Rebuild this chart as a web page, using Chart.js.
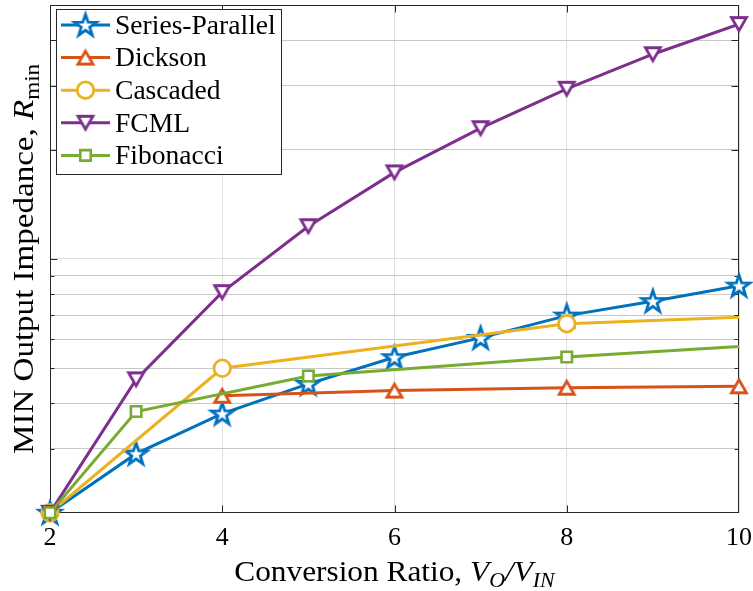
<!DOCTYPE html>
<html>
<head>
<meta charset="utf-8">
<script src="https://cdn.jsdelivr.net/npm/chart.js@4.4.1/dist/chart.umd.min.js"></script>
<style>
  html, body { margin: 0; padding: 0; background: #fff; }
  canvas { display: block; }
</style>
</head>
<body>
<canvas id="rminChart" width="753" height="591"></canvas>
<script>
// axis ticks
const xTicks = [2, 4, 6, 8, 10];
const yTicks = [2, 3, 4, 5, 6, 7, 8, 9, 10, 20, 30, 40, 50];

const seriesNames = ['Series-Parallel', 'Dickson', 'Cascaded', 'FCML', 'Fibonacci'];

// values (log y axis)
const spX = [2, 3, 4, 5, 6, 7, 8, 9, 10];
const spY = [2, 2.91, 3.75, 4.53, 5.36, 6.06, 6.98, 7.65, 8.44];

const dicksonX = [4, 6, 8, 10];
const dicksonY = [4.2, 4.34, 4.42, 4.46];

const cascadedX = [2, 4, 8, 16];
const cascadedY = [2, 5.0, 6.63, 7.8];

const fcmlX = [2, 3, 4, 5, 6, 7, 8, 9, 10];
const fcmlY = [2, 4.66, 8.1, 12.3, 17.3, 22.9, 29.4, 36.6, 44.3];

const fibX = [2, 3, 5, 8, 13];
const fibY = [2, 3.8, 4.76, 5.37, 6.33];

const FONT = "'Liberation Serif', 'Times New Roman', serif";
const AXIS_COLOR = '#262626';
const LINE_W = 3;

// --- marker images (matlab-like pentagram and triangles) ---
function starImage(color) {
    const c = document.createElement('canvas');
    c.width = c.height = 36;
    const g = c.getContext('2d');
    g.beginPath();
    for (let i = 0; i < 10; i++) {
        const r = i % 2 ? 4.5 : 11.5;
        const a = -Math.PI / 2 + i * Math.PI / 5;
        g.lineTo(18 + r * Math.cos(a), 18.8 + r * Math.sin(a));
    }
    g.closePath();
    g.fillStyle = '#fff';
    g.fill();
    g.lineWidth = 2.8;
    g.lineJoin = 'miter';
    g.strokeStyle = color;
    g.stroke();
    return c;
}

function triangleImage(color, down) {
    const c = document.createElement('canvas');
    c.width = c.height = 30;
    const g = c.getContext('2d');
    const w = 15, h = 13, cx = 15, cy = 15;
    g.beginPath();
    if (down) {
        g.moveTo(cx, cy + h / 2);
        g.lineTo(cx - w / 2, cy - h / 2);
        g.lineTo(cx + w / 2, cy - h / 2);
    } else {
        g.moveTo(cx, cy - h / 2);
        g.lineTo(cx - w / 2, cy + h / 2);
        g.lineTo(cx + w / 2, cy + h / 2);
    }
    g.closePath();
    g.fillStyle = '#fff';
    g.fill();
    g.lineWidth = 2.8;
    g.lineJoin = 'miter';
    g.strokeStyle = color;
    g.stroke();
    return c;
}

const colors = ['#0072BD', '#D95319', '#EDB120', '#7E2F8E', '#77AC30'];
const markers = [
    { style: starImage(colors[0]) },
    { style: triangleImage(colors[1], false) },
    { style: 'circle', radius: 8.3, border: 2.8 },
    { style: triangleImage(colors[3], true) },
    { style: 'rect', radius: 7.4, border: 2.6 }
];
const seriesX = [spX, dicksonX, cascadedX, fcmlX, fibX];
const seriesY = [spY, dicksonY, cascadedY, fcmlY, fibY];

function toPoints(xs, ys) {
    return xs.map((x, i) => ({ x: x, y: ys[i] }));
}

// each series = a clipped line + unclipped markers (matlab draws markers over the axes)
const datasets = [];
seriesNames.forEach((name, i) => {
    const pts = toPoints(seriesX[i], seriesY[i]);
    const base = 20 - i * 2;
    datasets.push({
        label: name,
        data: pts,
        borderColor: colors[i],
        borderWidth: LINE_W,
        pointRadius: 0,
        fill: false,
        tension: 0,
        clip: { left: 0, top: 0, right: 0, bottom: 0 },
        order: base
    });
    const m = markers[i];
    datasets.push({
        label: name + ' markers',
        data: pts,
        showLine: false,
        pointStyle: m.style,
        pointRadius: m.radius || 10,
        pointBorderWidth: m.border || 0,
        pointBorderColor: colors[i],
        pointBackgroundColor: '#fff',
        clip: false,
        order: base - 1
    });
});

// --- mixed-style text (italic math, subscripts) ---
function drawParts(ctx, parts, x, y, size, stretch) {
    const fontFor = p => (p.it ? 'italic ' : '') + (p.sub ? size * 0.7 : size) + 'px ' + FONT;
    let total = 0;
    parts.forEach(p => { ctx.font = fontFor(p); total += ctx.measureText(p.t).width; });
    ctx.save();
    ctx.translate(x, y);
    ctx.scale(stretch, 1);
    ctx.textBaseline = 'alphabetic';
    ctx.textAlign = 'left';
    let cx = -total / 2;
    parts.forEach(p => {
        ctx.font = fontFor(p);
        ctx.fillText(p.t, cx, p.sub ? size * 0.2 : 0);
        cx += ctx.measureText(p.t).width;
    });
    ctx.restore();
}

function drawLegendMarker(ctx, i, x, y) {
    const m = markers[i];
    ctx.save();
    if (typeof m.style !== 'string') {
        ctx.drawImage(m.style, x - m.style.width / 2, y - m.style.height / 2);
    } else {
        ctx.beginPath();
        if (m.style === 'circle') {
            ctx.arc(x, y, m.radius, 0, Math.PI * 2);
        } else {
            const s = m.radius * Math.SQRT1_2;
            ctx.rect(x - s, y - s, 2 * s, 2 * s);
        }
        ctx.fillStyle = '#fff';
        ctx.fill();
        ctx.lineWidth = m.border;
        ctx.strokeStyle = colors[i];
        ctx.stroke();
    }
    ctx.restore();
}

const matlabDecor = {
    id: 'matlabDecor',
    beforeDraw(chart) {
        const ctx = chart.ctx;
        ctx.save();
        ctx.fillStyle = '#fff';
        ctx.fillRect(0, 0, chart.width, chart.height);
        ctx.restore();
    },
    beforeDatasetsDraw(chart) {
        const { ctx, chartArea: a, scales } = chart;
        ctx.save();
        ctx.strokeStyle = AXIS_COLOR;
        ctx.lineWidth = 1;
        const L = Math.round(a.left) + 0.5, R = Math.round(a.right) - 0.5;
        const T = Math.round(a.top) + 0.5, B = Math.round(a.bottom) - 0.5;
        ctx.strokeRect(L, T, R - L, B - T);
        ctx.beginPath();
        xTicks.slice(1, -1).forEach(v => {
            const px = Math.round(scales.x.getPixelForValue(v)) + 0.5;
            ctx.moveTo(px, B); ctx.lineTo(px, B - 7);
            ctx.moveTo(px, T); ctx.lineTo(px, T + 7);
        });
        yTicks.slice(1, -1).forEach(v => {
            const py = Math.round(scales.y.getPixelForValue(v)) + 0.5;
            const len = v >= 10 ? 7 : 4;
            ctx.moveTo(L, py); ctx.lineTo(L + len, py);
            ctx.moveTo(R, py); ctx.lineTo(R - len, py);
        });
        ctx.stroke();
        ctx.restore();
    },
    afterDraw(chart) {
        const { ctx, chartArea: a } = chart;
        ctx.save();
        ctx.fillStyle = '#000';

        // x title
        drawParts(ctx, [
            { t: 'Conversion Ratio, ' },
            { t: 'V', it: true }, { t: 'O', it: true, sub: true },
            { t: '/V', it: true }, { t: 'IN', it: true, sub: true }
        ], (a.left + a.right) / 2, 581, 29, 1.08);

        // y title
        ctx.save();
        ctx.translate(33, (a.top + a.bottom) / 2);
        ctx.rotate(-Math.PI / 2);
        drawParts(ctx, [
            { t: 'MIN Output Impedance, ' },
            { t: 'R', it: true }, { t: 'min', sub: true }
        ], 0, 0, 29.5, 1.12);
        ctx.restore();

        // legend box
        const bx = 56.5, by = 9.5, bw = 225, bh = 165;
        ctx.fillStyle = '#fff';
        ctx.fillRect(bx, by, bw, bh);
        ctx.strokeStyle = AXIS_COLOR;
        ctx.lineWidth = 1;
        ctx.strokeRect(bx, by, bw, bh);
        seriesNames.forEach((name, i) => {
            const cy = 25 + i * 32.6;
            ctx.strokeStyle = colors[i];
            ctx.lineWidth = LINE_W;
            ctx.beginPath();
            ctx.moveTo(61, cy);
            ctx.lineTo(110, cy);
            ctx.stroke();
            drawLegendMarker(ctx, i, 85.5, cy);
            ctx.save();
            ctx.translate(115, cy + 8.8);
            ctx.scale(1.04, 1);
            ctx.fillStyle = '#000';
            ctx.font = '26.5px ' + FONT;
            ctx.textAlign = 'left';
            ctx.textBaseline = 'alphabetic';
            ctx.fillText(name, 0, 0);
            ctx.restore();
        });
        ctx.restore();
    }
};

new Chart(document.getElementById('rminChart').getContext('2d'), {
    type: 'line',
    data: { datasets: datasets },
    options: {
        responsive: false,
        animation: false,
        devicePixelRatio: 1,
        events: [],
        layout: { autoPadding: false, padding: { left: 50, right: 14, top: 5, bottom: 27 } },
        plugins: { legend: { display: false }, tooltip: { enabled: false } },
        scales: {
            x: {
                type: 'linear',
                min: 2,
                max: 10,
                afterBuildTicks: scale => { scale.ticks = xTicks.map(v => ({ value: v })); },
                afterFit: scale => { scale.paddingLeft = 0; scale.paddingRight = 0; },
                grid: { color: '#dfdfdf', drawTicks: false, lineWidth: 1 },
                border: { display: false },
                ticks: {
                    color: '#000',
                    padding: 10,
                    maxRotation: 0,
                    font: { family: FONT, size: 26 }
                }
            },
            y: {
                type: 'logarithmic',
                min: 2,
                max: 50,
                afterBuildTicks: scale => { scale.ticks = yTicks.map(v => ({ value: v })); },
                afterFit: scale => { scale.paddingTop = 0; scale.paddingBottom = 0; },
                grid: {
                    drawTicks: false,
                    lineWidth: 1,
                    color: c => (c.tick && c.tick.value === 10) ? '#dfdfdf' : '#c8c8c8'
                },
                border: { display: false },
                ticks: { display: false }
            }
        }
    },
    plugins: [matlabDecor]
});
</script>
</body>
</html>
